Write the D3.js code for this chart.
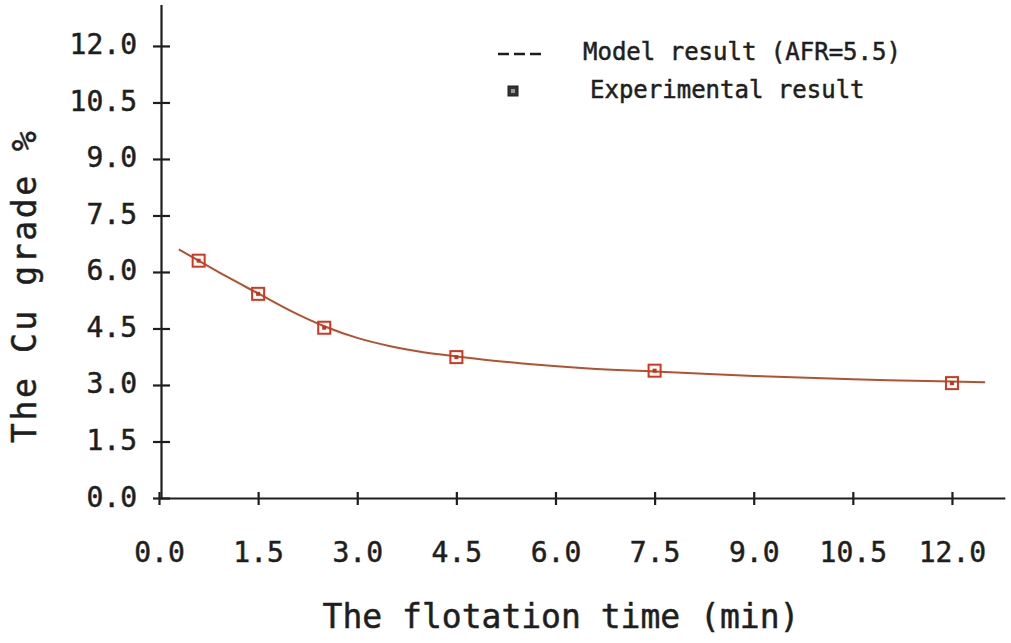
<!DOCTYPE html>
<html>
<head>
    <meta charset="utf-8">
    <title>Cu grade vs flotation time</title>
    <script src="https://cdn.jsdelivr.net/npm/d3@7"></script>
    <style>
        body { margin: 0; background: #fff; }
        text { font-family: "DejaVu Sans Mono", monospace; fill: #1e1e1e; stroke: #1e1e1e; stroke-width: 0.5px; }
    </style>
</head>
<body>
    <svg width="1011" height="643" id="mainsvg"></svg>
    <script>
        // data
        const X_TICKS = [0, 1.5, 3, 4.5, 6, 7.5, 9, 10.5, 12];
        const Y_TICKS = [0, 1.5, 3, 4.5, 6, 7.5, 9, 10.5, 12];
        const expTime = [0.6, 1.5, 2.5, 4.5, 7.5, 12.0];
        const expGrade = [6.30, 5.42, 4.52, 3.74, 3.38, 3.05];
        const modelTime = [0.3, 0.6, 1.0, 1.5, 2.0, 2.5, 3.0, 3.5, 4.0, 4.5, 5.5, 6.5, 7.5, 9.0, 10.5, 12.0, 12.5];
        const modelGrade = [6.60, 6.30, 5.90, 5.43, 4.96, 4.56, 4.25, 4.03, 3.87, 3.76, 3.57, 3.44, 3.36, 3.24, 3.15, 3.09, 3.07];

        const svg = d3.select('svg');
        const x0 = 159, y0 = 498;
        const pxX = 66.08, pxY = 37.67;

        const xScale = d3.scaleLinear().domain([0, 12.8]).range([x0, x0 + 12.8 * pxX]);
        const yScale = d3.scaleLinear().domain([0, 13.1]).range([y0, y0 - 13.1 * pxY]);

        // axes
        const xAxis = d3.axisBottom(xScale).tickValues(X_TICKS).tickSizeOuter(0).tickFormat(d3.format('.1f'));
        const gx = svg.append('g').attr('transform', `translate(0, ${y0})`).call(xAxis);
        gx.select('.domain').attr('stroke', '#1e1e1e').attr('stroke-width', 2.2);
        gx.selectAll('.tick line').attr('y1', -6).attr('y2', 7).attr('stroke', '#1e1e1e').attr('stroke-width', 2.2);
        gx.selectAll('.tick text').attr('y', 64).attr('dy', 0)
            .style('font-size', '28px').style('font-family', '"DejaVu Sans Mono", monospace').attr('fill', '#1e1e1e');

        const yAxis = d3.axisLeft(yScale).tickValues(Y_TICKS).tickSizeOuter(0).tickFormat(d3.format('.1f'));
        const gy = svg.append('g').attr('transform', `translate(${x0 + 2}, 0)`).call(yAxis);
        gy.select('.domain').attr('stroke', '#1e1e1e').attr('stroke-width', 2.2);
        gy.selectAll('.tick line').attr('x1', -8).attr('x2', 9).attr('stroke', '#1e1e1e').attr('stroke-width', 2.2);
        gy.selectAll('.tick text').attr('x', -24).attr('dy', 8)
            .style('font-size', '28px').style('font-family', '"DejaVu Sans Mono", monospace').attr('fill', '#1e1e1e');
        svg.selectAll('.domain').attr('fill', 'none');

        // model curve
        const line = d3.line()
            .x((d, i) => xScale(modelTime[i]))
            .y(d => yScale(d))
            .curve(d3.curveCatmullRom);
        svg.append('path')
            .attr('d', line(modelGrade))
            .attr('fill', 'none')
            .attr('stroke', '#b0532e')
            .attr('stroke-width', 2);

        // experimental points
        const pts = svg.append('g').selectAll('g').data(expGrade).join('g')
            .attr('transform', (d, i) => `translate(${xScale(expTime[i])}, ${yScale(d)})`);
        pts.append('rect')
            .attr('x', -6).attr('y', -6).attr('width', 12).attr('height', 12)
            .attr('fill', 'none').attr('stroke', '#d3361e').attr('stroke-width', 2);
        pts.append('rect')
            .attr('x', -2).attr('y', -2).attr('width', 4).attr('height', 4)
            .attr('fill', '#c8321c');

        // legend
        const leg = svg.append('g');
        leg.append('line')
            .attr('x1', 498).attr('x2', 543).attr('y1', 54).attr('y2', 54)
            .attr('stroke', '#1e1e1e').attr('stroke-width', 2.5).attr('stroke-dasharray', '11,5');
        leg.append('text').attr('x', 583).attr('y', 60)
            .style('font-size', '24px').text('Model result (AFR=5.5)');
        leg.append('rect').attr('x', 508).attr('y', 86).attr('width', 10).attr('height', 10)
            .attr('fill', '#333').attr('stroke', '#1e1e1e').attr('stroke-width', 1);
        leg.append('rect').attr('x', 511).attr('y', 89).attr('width', 4).attr('height', 4).attr('fill', '#999');
        leg.append('text').attr('x', 590).attr('y', 98)
            .style('font-size', '24px').text('Experimental result');

        // axis titles
        svg.append('text')
            .attr('x', 561).attr('y', 628)
            .attr('text-anchor', 'middle')
            .style('font-size', '33px')
            .text('The flotation time (min)');
        svg.append('text')
            .attr('transform', 'translate(36, 287) rotate(-90)')
            .attr('text-anchor', 'middle')
            .attr('textLength', 312).attr('lengthAdjust', 'spacing')
            .style('font-size', '33px')
            .text('The Cu grade %');
    </script>
</body>
</html>
